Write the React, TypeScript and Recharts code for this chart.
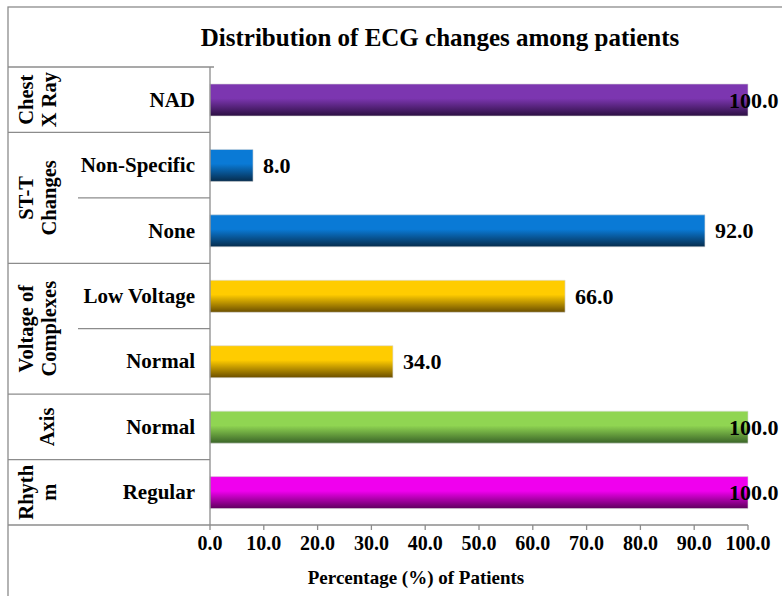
import React from "react";
import { BarChart, Bar, XAxis, YAxis, Cell, LabelList } from "recharts";

const categories = ["NAD", "Non-Specific", "None", "Low Voltage", "Normal", "Normal", "Regular"];
const values = [100.0, 8.0, 92.0, 66.0, 34.0, 100.0, 100.0];
const groupOfRow = [0, 1, 1, 2, 2, 3, 4];
const groupLabels = [["Chest", "X Ray"], ["ST-T", "Changes"], ["Voltage of", "Complexes"], ["Axis"], ["Rhyth", "m"]];
const xTicks = [0, 10, 20, 30, 40, 50, 60, 70, 80, 90, 100];
const title = "Distribution of ECG changes among patients";
const xTitle = "Percentage (%) of Patients";

const colorPairs: [string, string][] = [
  ["#7c36b0", "#2c0f42"],
  ["#0a7ad6", "#062c4c"],
  ["#0a7ad6", "#062c4c"],
  ["#ffcc00", "#6a4e00"],
  ["#ffcc00", "#6a4e00"],
  ["#90d552", "#3a6428"],
  ["#f000ee", "#5e005c"],
];

const W = 782;
const H = 596;
const TOP = 67;
const BOTTOM_AX = 71;
const PLOT_H = H - TOP - BOTTOM_AX;
const BAND = PLOT_H / categories.length;
const AXIS_X = 210;
const FONT = "'Liberation Serif', 'Times New Roman', serif";
const GRID = "#8c8c8c";

const data = categories.map((c, i) => ({ id: String(i), label: c, value: values[i] }));

function YTick(props: any) {
  const { y, payload } = props;
  const i = Number(payload.value);
  const g = groupOfRow[i];
  const nextSame = i + 1 < categories.length && groupOfRow[i + 1] === g;
  const firstOfGroup = i === 0 || groupOfRow[i - 1] !== g;
  const count = groupOfRow.filter((v) => v === g).length;
  const gc = y + ((count - 1) * BAND) / 2;
  const lines = groupLabels[g];
  return (
    <g>
      <text x={195} y={y} textAnchor="end" dominantBaseline="central" fontFamily={FONT} fontWeight="bold" fontSize={21} fill="#000">
        {categories[i]}
      </text>
      {i === 0 && <line x1={8} x2={214} y1={y - BAND / 2} y2={y - BAND / 2} stroke={GRID} strokeWidth={1.3} />}
      <line x1={nextSame ? 78 : 8} x2={AXIS_X} y1={y + BAND / 2} y2={y + BAND / 2} stroke={GRID} strokeWidth={1.3} />
      {firstOfGroup &&
        lines.map((ln, k) => {
          const lx = lines.length === 1 ? 47 : k === 0 ? 26 : 49;
          return (
            <text key={k} x={lx} y={gc} transform={`rotate(-90 ${lx} ${gc})`} textAnchor="middle" dominantBaseline="central" fontFamily={FONT} fontWeight="bold" fontSize={20.5} fill="#000">
              {ln}
            </text>
          );
        })}
    </g>
  );
}

function ValueLabel(props: any) {
  const { x, y, width, height, value } = props;
  const tx = Math.min(x + width + 10, 729);
  return (
    <text x={tx} y={y + height / 2} dominantBaseline="central" fontFamily={FONT} fontWeight="bold" fontSize={22} fill="#000">
      {Number(value).toFixed(1)}
    </text>
  );
}

export default function App() {
  return (
    <div style={{ position: "absolute", left: 0, top: 0, width: W, height: H, background: "#fff", overflow: "hidden" }}>
      <svg width={0} height={0} style={{ position: "absolute" }}>
        <defs>
          {colorPairs.map((c, i) => (
            <linearGradient key={i} id={`grad-${i}`} x1="0" y1="0" x2="0" y2="1">
              <stop offset="0%" stopColor={c[0]} />
              <stop offset="45%" stopColor={c[0]} />
              <stop offset="100%" stopColor={c[1]} />
            </linearGradient>
          ))}
        </defs>
      </svg>
      <div style={{ position: "absolute", left: 0, top: 0 }}>
        <BarChart width={W} height={H} data={data} layout="vertical" margin={{ top: TOP, right: 34, bottom: 0, left: 8 }} barCategoryGap={0}>
          <XAxis
            type="number"
            domain={[0, 100]}
            ticks={xTicks}
            interval={0}
            height={BOTTOM_AX}
            tickFormatter={(v: number) => v.toFixed(1)}
            axisLine={{ stroke: GRID, strokeWidth: 1.3 }}
            tickLine={{ stroke: GRID, strokeWidth: 1.3 }}
            tickSize={5}
            tick={{ fontFamily: FONT, fontWeight: "bold", fontSize: 20, fill: "#000", dy: 4 }}
          />
          <YAxis
            type="category"
            dataKey="id"
            width={202}
            axisLine={{ stroke: GRID, strokeWidth: 1.3 }}
            tickLine={false}
            tick={<YTick />}
            interval={0}
          />
          <Bar dataKey="value" barSize={32} isAnimationActive={false} stroke="#d8d8d8" strokeWidth={0.6}>
            {data.map((d, i) => (
              <Cell key={d.id} fill={`url(#grad-${i})`} />
            ))}
            <LabelList dataKey="value" content={<ValueLabel />} />
          </Bar>
        </BarChart>
      </div>
      <svg width={W} height={H} style={{ position: "absolute", left: 0, top: 0, pointerEvents: "none" }}>
        <rect x={8} y={7} width={W + 20} height={H + 20} fill="none" stroke={GRID} strokeWidth={1.3} />
        <text x={440} y={37} textAnchor="middle" dominantBaseline="central" fontFamily={FONT} fontWeight="bold" fontSize={25} fill="#000">
          {title}
        </text>
        <text x={416} y={577} textAnchor="middle" dominantBaseline="central" fontFamily={FONT} fontWeight="bold" fontSize={19} fill="#000">
          {xTitle}
        </text>
      </svg>
    </div>
  );
}
